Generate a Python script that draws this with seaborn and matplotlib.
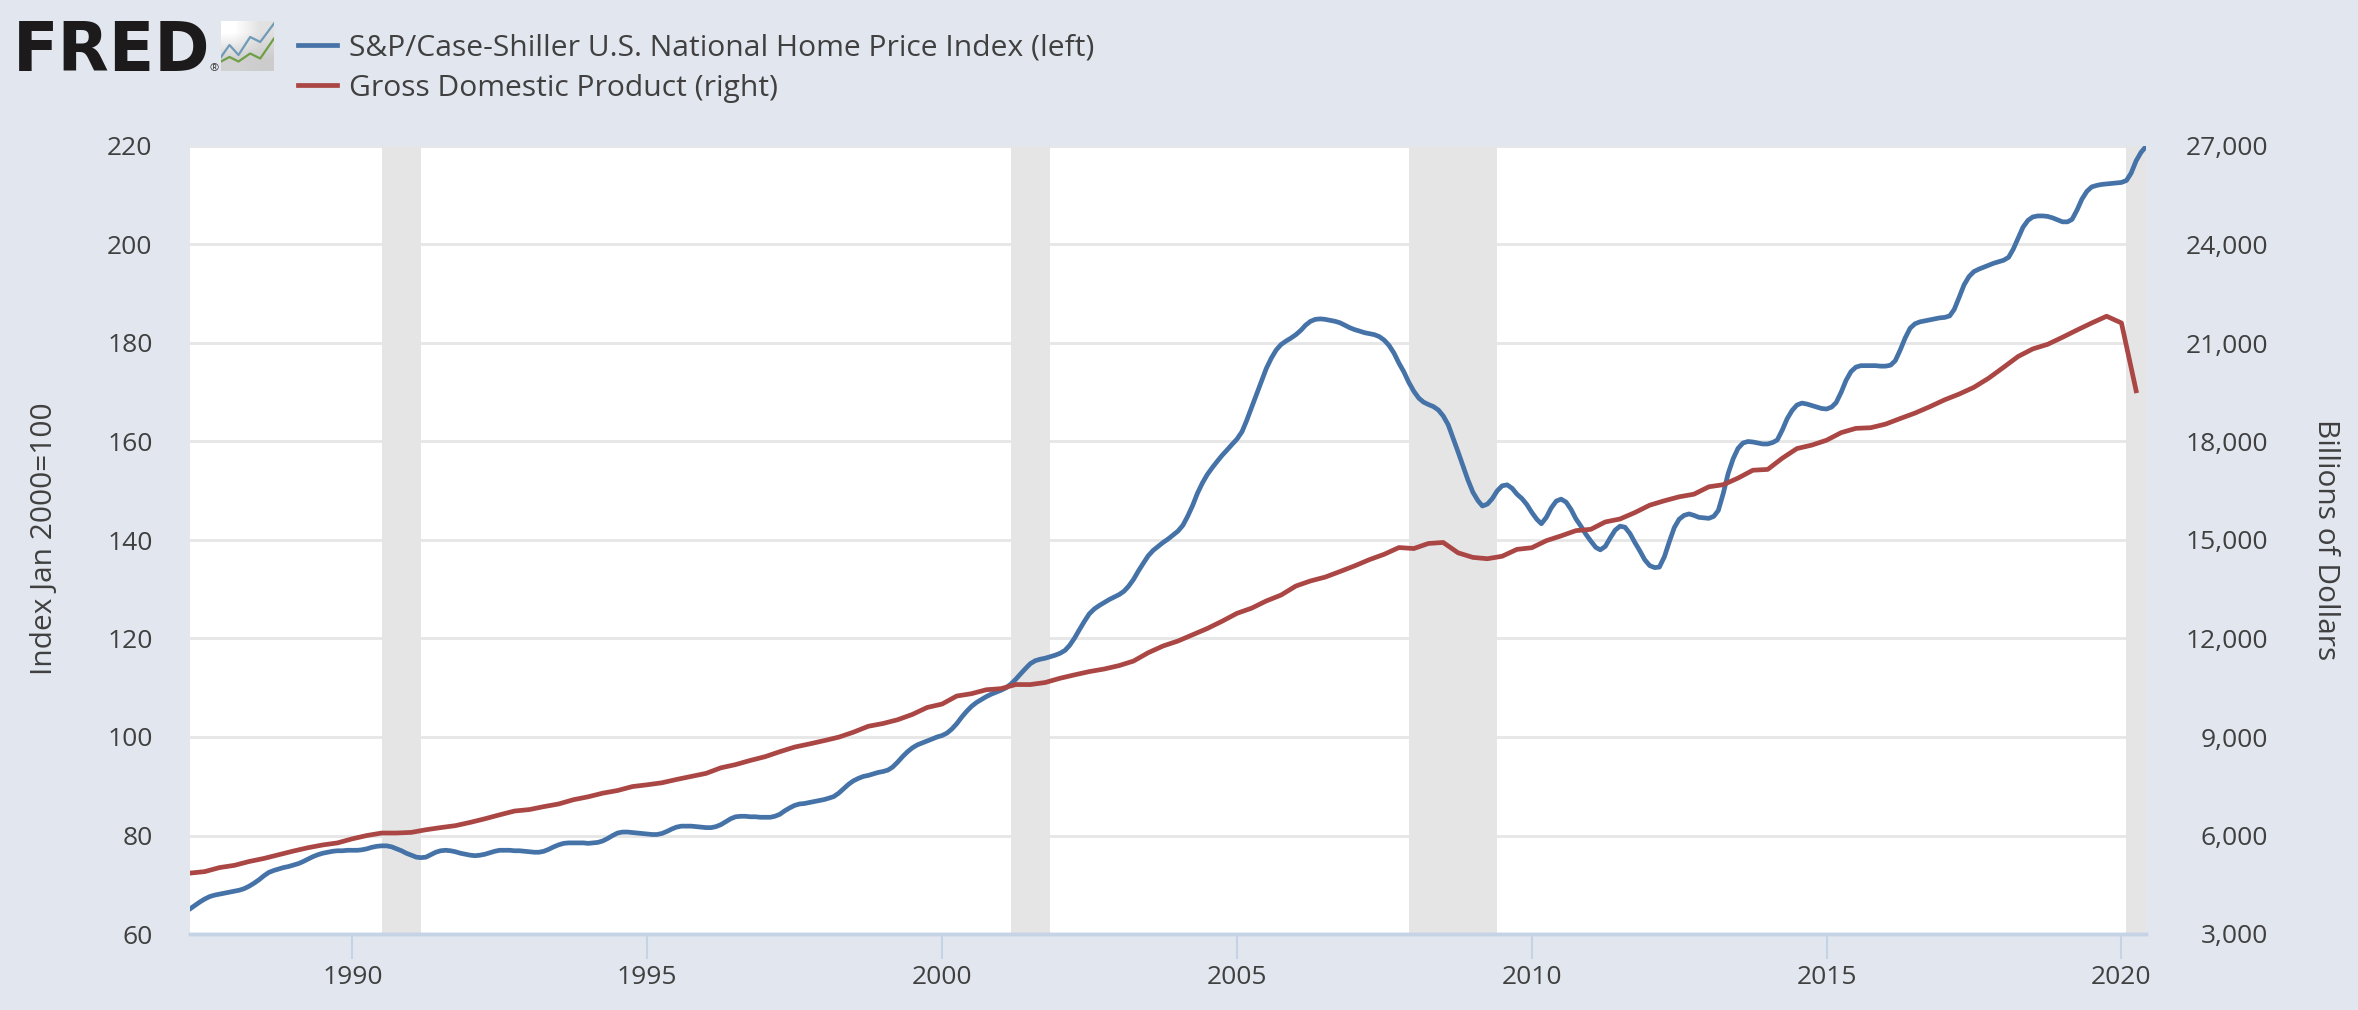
import matplotlib.pyplot as plt
import seaborn as sns
import numpy as np
import pandas as pd

home_price = [65.1, 65.8, 66.5, 67.1, 67.6, 67.9, 68.1, 68.3, 68.5,
    68.7, 68.9, 69.2, 69.7, 70.3, 71.0, 71.8, 72.5, 72.9, 73.2, 73.5, 73.7,
    74.0, 74.3, 74.7, 75.2, 75.7, 76.1, 76.4, 76.6, 76.8, 76.9, 76.9, 77.0,
    77.0, 77.0, 77.1, 77.3, 77.6, 77.8, 77.9, 77.9, 77.7, 77.3, 76.9, 76.4,
    76.0, 75.6, 75.5, 75.6, 76.1, 76.6, 76.9, 77.0, 76.9, 76.7, 76.4, 76.2,
    76.0, 75.9, 76.0, 76.2, 76.5, 76.8, 77.0, 77.0, 77.0, 76.9, 76.9, 76.8,
    76.7, 76.6, 76.6, 76.8, 77.2, 77.7, 78.1, 78.4, 78.5, 78.5, 78.5, 78.5,
    78.4, 78.5, 78.6, 78.9, 79.4, 80.0, 80.5, 80.7, 80.7, 80.6, 80.5, 80.4,
    80.3, 80.2, 80.2, 80.4, 80.8, 81.3, 81.7, 81.9, 81.9, 81.9, 81.8, 81.7,
    81.6, 81.6, 81.8, 82.2, 82.8, 83.4, 83.8, 83.9, 83.9, 83.8, 83.8, 83.7,
    83.7, 83.7, 83.9, 84.3, 85.0, 85.6, 86.1, 86.4, 86.5, 86.7, 86.9, 87.1,
    87.3, 87.6, 87.9, 88.6, 89.5, 90.4, 91.1, 91.6, 92.0, 92.2, 92.5, 92.8,
    93.0, 93.3, 93.9, 94.9, 96.0, 97.0, 97.8, 98.4, 98.8, 99.2, 99.6, 100.0,
    100.3, 100.8, 101.6, 102.7, 104.0, 105.2, 106.2, 107.0, 107.6, 108.2, 108.7, 109.1,
    109.5, 110.0, 110.7, 111.7, 112.8, 113.9, 114.9, 115.5, 115.8, 116.0, 116.3, 116.6,
    117.0, 117.6, 118.6, 120.1, 121.8, 123.5, 125.0, 126.0, 126.7, 127.3, 127.9, 128.4,
    128.9, 129.6, 130.6, 132.0, 133.7, 135.3, 136.8, 137.9, 138.7, 139.5, 140.2, 141.0,
    141.8, 143.0, 144.8, 147.0, 149.5, 151.6, 153.3, 154.7, 156.0, 157.2, 158.3, 159.4,
    160.5, 162.0, 164.2, 166.9, 169.5, 172.2, 174.8, 176.9, 178.6, 179.7, 180.4, 181.0,
    181.7, 182.6, 183.6, 184.4, 184.8, 184.9, 184.8, 184.6, 184.4, 184.1, 183.6, 183.1,
    182.7, 182.4, 182.1, 181.9, 181.7, 181.3, 180.6, 179.5, 177.9, 175.9, 174.1, 172.0,
    170.2, 168.8, 168.0, 167.5, 167.1, 166.4, 165.2, 163.4, 160.6, 157.9, 155.0, 152.2,
    149.7, 148.0, 146.9, 147.3, 148.4, 150.0, 151.0, 151.2, 150.5, 149.3, 148.4, 147.2,
    145.6, 144.2, 143.3, 144.6, 146.5, 147.9, 148.3, 147.7, 146.2, 144.3, 142.8, 141.2,
    139.8, 138.5, 138.0, 138.7, 140.4, 142.0, 142.8, 142.6, 141.3, 139.5, 137.8, 136.0,
    134.8, 134.4, 134.5, 136.6, 139.6, 142.5, 144.2, 145.0, 145.3, 145.0, 144.6, 144.5,
    144.4, 144.8, 146.0, 149.5, 153.5, 156.5, 158.6, 159.7, 160.0, 159.9, 159.7, 159.5,
    159.5, 159.8, 160.3, 162.3, 164.6, 166.3, 167.4, 167.8, 167.6, 167.3, 167.0, 166.7,
    166.6, 167.0, 167.9, 170.0, 172.4, 174.2, 175.1, 175.4, 175.4, 175.4, 175.4, 175.3,
    175.3, 175.5, 176.4, 178.6, 181.0, 183.0, 183.9, 184.3, 184.5, 184.7, 184.9, 185.1,
    185.2, 185.5, 186.8, 189.3, 191.8, 193.5, 194.5, 195.0, 195.4, 195.8, 196.2, 196.5,
    196.8, 197.4, 199.0, 201.3, 203.5, 204.9, 205.6, 205.8, 205.8, 205.7, 205.4, 205.0,
    204.6, 204.6, 205.1, 207.0, 209.2, 210.8, 211.7, 212.0, 212.2, 212.3, 212.4, 212.5,
    212.6, 213.0, 214.5, 217.0, 218.7, 219.9]

gdp = [4855, 4900, 5023,
    5091, 5208, 5300, 5413,
    5527, 5628, 5712, 5775,
    5900, 6000, 6075, 6075,
    6095, 6175, 6240, 6300,
    6400, 6510, 6630, 6745,
    6790, 6880, 6960, 7090,
    7180, 7290, 7370, 7490,
    7545, 7605, 7706, 7800,
    7893, 8061, 8159, 8287,
    8402, 8552, 8692, 8788,
    8890, 8995, 9146, 9326,
    9412, 9526, 9687, 9900,
    10003, 10248, 10319, 10439,
    10473, 10598, 10597, 10660,
    10789, 10893, 10992, 11071,
    11174, 11313, 11567, 11772,
    11923, 12113, 12305, 12527,
    12767, 12923, 13143, 13324,
    13599, 13753, 13870, 14040,
    14215, 14402, 14564, 14770,
    14740, 14895, 14925, 14610,
    14470, 14430, 14505, 14715,
    14765, 14980, 15125, 15285,
    15325, 15550, 15640, 15835,
    16060, 16195, 16315, 16395,
    16620, 16685, 16885, 17125,
    17150, 17490, 17785, 17890,
    18040, 18270, 18400, 18420,
    18530, 18700, 18865, 19060,
    19270, 19445, 19650, 19930,
    20260, 20590, 20820, 20960,
    21175, 21395, 21610, 21815,
    21610, 19545]

recession_start = ['1990-07-01', '2001-03-01', '2007-12-01', '2020-02-01']
recession_end = ['1991-03-01', '2001-11-01', '2009-06-01', '2020-06-01']
year_ticks = [1990, 1995, 2000, 2005, 2010, 2015, 2020]
left_ticks = [60, 80, 100, 120, 140, 160, 180, 200, 220]
right_ticks = [3000, 6000, 9000, 12000, 15000, 18000, 21000, 24000, 27000]

# little picture next to the logo
logo_x = [0, .16, .33, .55, .74, 1]
logo_blue = [.28, .52, .32, .68, .58, .95]
logo_green = [.19, .28, .19, .35, .25, .65]
logo_shade = [[1.0, .88], [.82, .80]]

back = '#E2E7EF'
grey_text = '#404040'


def DrawLogo(f):
    f.text(13/2358, 1-71/1010, 'FRED', family='DejaVu Sans', weight='bold', fontsize=48, color='#1c1a1b', va='baseline')
    f.text(210/2358, 1-71/1010, '®', family='Open Sans', fontsize=8, color='#333333', va='baseline')
    ax = f.add_axes([221/2358, 1-71/1010, 53/2358, 50/1010])
    ax.imshow(np.array(logo_shade), cmap='gray', vmin=0, vmax=1, extent=(0, 1, 0, 1), aspect='auto', interpolation='bilinear')
    sns.lineplot(x=logo_x, y=logo_blue, ax=ax, color='#6f9ab8', linewidth=1.6)
    sns.lineplot(x=logo_x, y=logo_green, ax=ax, color='#6f9f45', linewidth=1.6)
    ax.set_xlim(0, 1); ax.set_ylim(0, 1)
    ax.axis('off')


def MakeChart(save):
    months = pd.date_range('1987-04-01', periods=len(home_price), freq='MS')
    quarters = pd.date_range('1987-04-01', periods=len(gdp), freq='QS')

    f, ax = plt.subplots(figsize=(23.58, 10.1), dpi=100, facecolor=back)
    f.subplots_adjust(left=190/2358, right=2146/2358, top=1-146/1010, bottom=1-934/1010)
    ax2 = ax.twinx()

    ax.set_axisbelow(True)
    ax.grid(axis='y', color='#E6E6E6', linewidth=2)
    for start, end in zip(recession_start, recession_end):
        ax.axvspan(pd.Timestamp(start), pd.Timestamp(end), color='#E5E5E5', linewidth=0, zorder=1.5)

    sns.lineplot(x=months, y=home_price, ax=ax, color='#4572A7', linewidth=3.4, zorder=3,
        label='S&P/Case-Shiller U.S. National Home Price Index (left)', legend=False)
    sns.lineplot(x=quarters, y=gdp, ax=ax2, color='#AA4643', linewidth=3.4,
        label='Gross Domestic Product (right)', legend=False)

    ax.set_xlim(months[0], months[-1])
    ax.set_ylim(60, 220)
    ax2.set_ylim(3000, 27000)
    ax.set_xlabel('')
    ax.set_ylabel('')
    ax2.set_ylabel('')

    ax.set_xticks([pd.Timestamp(str(y) + '-01-01') for y in year_ticks])
    ax.set_xticklabels([str(y) for y in year_ticks], family='Open Sans', fontsize=19, color=grey_text)
    ax.set_yticks(left_ticks)
    ax.set_yticklabels([str(v) for v in left_ticks], family='Open Sans', fontsize=19, color=grey_text)
    ax2.set_yticks(right_ticks)
    ax2.set_yticklabels(['{:,}'.format(v) for v in right_ticks], family='Open Sans', fontsize=19, color=grey_text, ha='right')
    ax.tick_params(axis='x', length=18, width=1.5, color='#C6D3E6', pad=4)
    ax.tick_params(axis='y', length=0, pad=27)
    ax2.tick_params(axis='y', length=0, pad=88)

    for a in [ax, ax2]:
        for side in ['top', 'left', 'right']:
            a.spines[side].set_visible(False)
        a.spines['bottom'].set_color('#C6D3E6')
        a.spines['bottom'].set_linewidth(2.5)

    f.text(45/2358, 1-539/1010, 'Index Jan 2000=100', family='Open Sans', fontsize=21.5, color=grey_text, rotation=90, ha='center', va='center')
    f.text(2325/2358, 1-540/1010, 'Billions of Dollars', family='Open Sans', fontsize=21.5, color=grey_text, rotation=270, ha='center', va='center')

    handles = ax.get_lines()[-1:] + ax2.get_lines()[-1:]
    f.legend(handles, [h.get_label() for h in handles], loc='upper left', bbox_to_anchor=(298/2358, 1-33/1010),
        frameon=False, prop={'family': 'Open Sans', 'size': 21.6}, labelcolor=grey_text,
        handlelength=1.3, handletextpad=0.4, labelspacing=0.39, borderpad=0, borderaxespad=0)

    DrawLogo(f)
    plt.savefig('out.' + save, facecolor=back)


MakeChart('png')
